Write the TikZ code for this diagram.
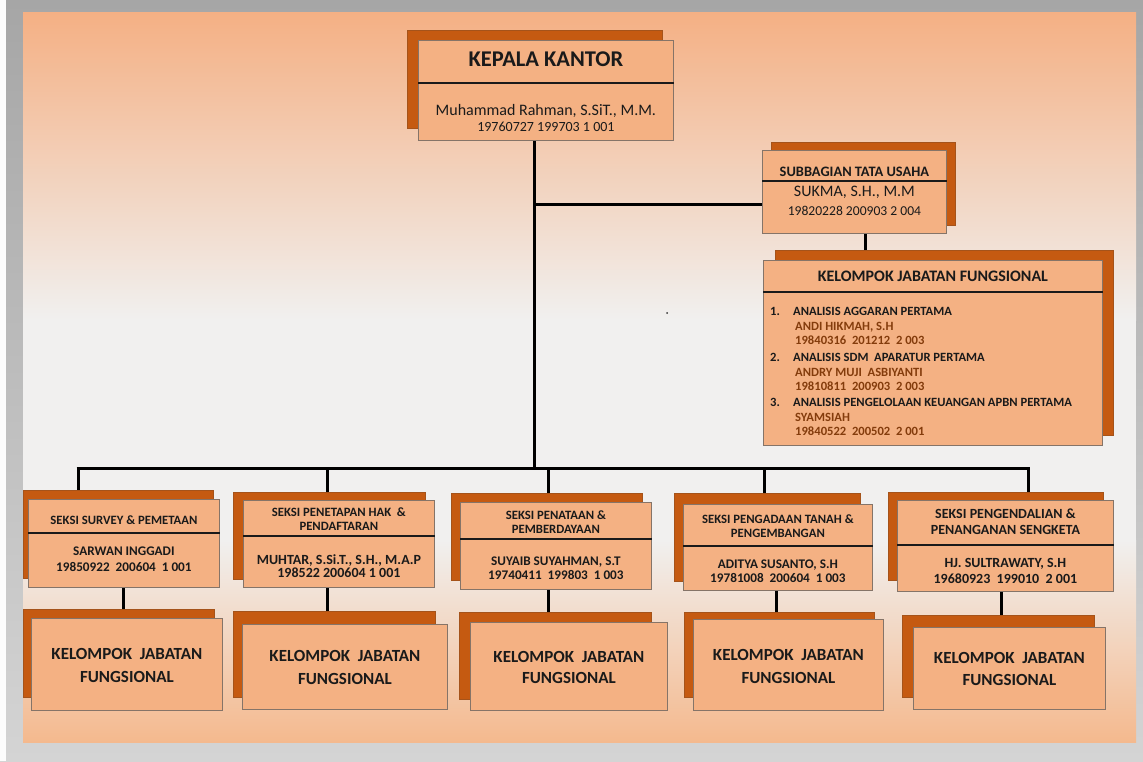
\documentclass[tikz,border=0pt]{standalone}
\usepackage{fontspec}
\setmainfont{Carlito}
\usetikzlibrary{calc}
\definecolor{boxfill}{HTML}{F4B183}
\definecolor{boxdark}{HTML}{C55A11}
\definecolor{boxdarkline}{HTML}{A5531A}
\definecolor{boxline}{HTML}{857468}
\definecolor{ink}{HTML}{1A1A1A}
\definecolor{brownink}{HTML}{843C0C}
\definecolor{slideor}{HTML}{F4B084}
\definecolor{slideorb}{HTML}{F4B98E}
\definecolor{slidewh}{HTML}{F1F0EF}
\definecolor{framegt}{HTML}{A6A6A6}
\definecolor{framegb}{HTML}{D4D4D4}
\newcommand\fs[1]{\fontsize{#1}{#1}\selectfont}
\newcommand\orgbox[9]{%
  \node[bk, minimum width=#8pt, minimum height=#9pt] (#1b) at (#6,#7) {};
  \node[fr, minimum width=#4pt, minimum height=#5pt] (#1) at (#2,#3) {};}
\tikzset{
  fr/.style={draw=boxline, fill=boxfill, line width=0.8pt, inner sep=0pt, anchor=north west},
  bk/.style={draw=boxdarkline, fill=boxdark, line width=0.6pt, inner sep=0pt, anchor=north west},
  conn/.style={draw=black, line width=3pt},
  sepline/.style={draw=ink, line width=2.4pt},
  lbl/.style={inner sep=0pt, anchor=base, text=ink},
  ttl/.style={lbl, font=\bfseries\fs{12.7}},
  nm/.style={lbl, font=\bfseries\fs{13.2}},
  kjfb/.style={lbl, font=\bfseries\fs{17}},
  li/.style={inner sep=0pt, anchor=base west, text=ink, font=\bfseries\fs{12.6}},
  lis/.style={inner sep=0pt, anchor=base west, text=brownink, font=\bfseries\fs{12.6}},
}
\begin{document}
\begin{tikzpicture}[x=1pt,y=-1pt]
\useasboundingbox (0,0) rectangle (1143,761);
% background frame and slide
\fill[top color=framegt, bottom color=framegb] (0,0) rectangle (1143,761);
\fill[white!92!framegb] (0,0) rectangle (6,761);
\fill[top color=slideor, bottom color=slidewh] (23,12) rectangle (1136,320);
\fill[slidewh] (23,319) rectangle (1136,541);
\fill[top color=slidewh, bottom color=slideorb] (23,540) rectangle (1136,742);
\fill[black!80] (667,313) circle (1);

% junction coordinates
\coordinate (j1) at (534,204);
\coordinate (j2) at (534,468);
\coordinate (busL) at (78,468);
\coordinate (busR) at (1028,468);
\coordinate (d2) at (327,468);
\coordinate (d3) at (548,468);
\coordinate (d4) at (764,468);
\coordinate (u1) at (123,600);
\coordinate (u2) at (327,600);
\coordinate (u3) at (548,600);
\coordinate (u4) at (776,600);
\coordinate (u5) at (1001,600);

% boxes: name, front x,y,w,h, back x,y,w,h
\orgbox{k}{418}{40}{255}{100}{407}{30}{255}{98}
\orgbox{sub}{762}{150}{184}{83}{771}{142}{184}{83}
\orgbox{kjf}{763}{260}{339}{185}{775}{250}{338}{185}
\orgbox{sa}{28}{499}{191}{88}{23}{490}{190}{88}
\orgbox{sb}{243}{500}{191}{87}{233}{492}{192}{87}
\orgbox{sc}{460}{502}{191}{87}{451}{493}{191}{87}
\orgbox{sd}{683}{504}{189}{86}{674}{493}{186}{88}
\orgbox{se}{897}{500}{216}{91}{888}{492}{215}{88}
\orgbox{ba}{31}{618}{191}{92}{23}{609}{191}{88}
\orgbox{bb}{242}{624}{205}{85}{233}{611}{202}{86}
\orgbox{bc}{470}{622}{197}{88}{459}{612}{192}{87}
\orgbox{bd}{693}{619}{190}{91}{684}{612}{190}{85}
\orgbox{be}{913}{627}{192}{82}{902}{615}{192}{82}

% connectors
\draw[conn] (k.south -| j1) -- (j2);
\draw[conn] (j1) -- (sub.west |- j1);
\draw[conn] ([xshift=11pt]sub.south) -- ([xshift=11pt]sub.south |- kjfb.north);
\draw[conn] ([xshift=-1.5pt]busL) -- ([xshift=1.5pt]busR);
\draw[conn] (busL) -- (busL |- sab.north);
\draw[conn] (d2) -- (d2 |- sbb.north);
\draw[conn] (d3) -- (d3 |- scb.north);
\draw[conn] (d4) -- (d4 |- sdb.north);
\draw[conn] (busR) -- (busR |- seb.north);
\draw[conn] (u1 |- sa.south) -- (u1 |- bab.north);
\draw[conn] (u2 |- sb.south) -- (u2 |- bbb.north);
\draw[conn] (u3 |- sc.south) -- (u3 |- bcb.north);
\draw[conn] (u4 |- sd.south) -- (u4 |- bdb.north);
\draw[conn] (u5 |- se.south) -- (u5 |- beb.north);

% redraw boxes over connector ends
\orgbox{k}{418}{40}{255}{100}{407}{30}{255}{98}
\orgbox{sub}{762}{150}{184}{83}{771}{142}{184}{83}
\orgbox{kjf}{763}{260}{339}{185}{775}{250}{338}{185}
\orgbox{sa}{28}{499}{191}{88}{23}{490}{190}{88}
\orgbox{sb}{243}{500}{191}{87}{233}{492}{192}{87}
\orgbox{sc}{460}{502}{191}{87}{451}{493}{191}{87}
\orgbox{sd}{683}{504}{189}{86}{674}{493}{186}{88}
\orgbox{se}{897}{500}{216}{91}{888}{492}{215}{88}
\orgbox{ba}{31}{618}{191}{92}{23}{609}{191}{88}
\orgbox{bb}{242}{624}{205}{85}{233}{611}{202}{86}
\orgbox{bc}{470}{622}{197}{88}{459}{612}{192}{87}
\orgbox{bd}{693}{619}{190}{91}{684}{612}{190}{85}
\orgbox{be}{913}{627}{192}{82}{902}{615}{192}{82}

% separators
\draw[sepline] (k.west |- 0,83) -- (k.east |- 0,83);
\draw[sepline] (sub.west |- 0,181) -- (sub.east |- 0,181);
\draw[sepline] (kjf.west |- 0,292) -- (kjf.east |- 0,292);
\draw[sepline] (sa.west |- 0,533) -- (sa.east |- 0,533);
\draw[sepline] (sb.west |- 0,536) -- (sb.east |- 0,536);
\draw[sepline] (sc.west |- 0,539) -- (sc.east |- 0,539);
\draw[sepline] (sd.west |- 0,546) -- (sd.east |- 0,546);
\draw[sepline] (se.west |- 0,545) -- (se.east |- 0,545);

% KEPALA KANTOR
\node[lbl, font=\bfseries\fs{22.5}] (kt) at (k.center |- 0,66.5) {KEPALA KANTOR};
\node[lbl, font=\fs{16}] (kn) at (k.center |- 0,115) {Muhammad Rahman, S.SiT., M.M.};
\node[lbl, font=\fs{14}] (kno) at (k.center |- 0,131.5) {19760727 199703 1 001};

% SUBBAGIAN
\node[lbl, font=\bfseries\fs{14.4}] (st) at (sub.center |- 0,176.5) {SUBBAGIAN TATA USAHA};
\node[lbl, font=\fs{16}] (sn) at (sub.center |- 0,196) {SUKMA, S.H., M.M};
\node[lbl, font=\fs{13.6}] (sno) at (sub.center |- 0,215) {19820228 200903 2 004};

% KELOMPOK JABATAN FUNGSIONAL (right)
\node[lbl, font=\bfseries\fs{16}] (kjt) at (kjf.center |- 0,281.5) {KELOMPOK JABATAN FUNGSIONAL};
\node[li] (l1n) at (770,315.7) {1.};
\node[li] (l1) at (793,315.7) {ANALISIS AGGARAN PERTAMA};
\node[lis] (l1a) at (795,330) {ANDI HIKMAH, S.H};
\node[lis] (l1b) at (795,344) {19840316~ 201212~ 2 003};
\node[li] (l2n) at (770,361) {2.};
\node[li] (l2) at (793,361) {ANALISIS SDM~ APARATUR PERTAMA};
\node[lis] (l2a) at (795,376) {ANDRY MUJI~ ASBIYANTI};
\node[lis] (l2b) at (795,390) {19810811~ 200903~ 2 003};
\node[li] (l3n) at (770,406) {3.};
\node[li] (l3) at (793,406) {ANALISIS PENGELOLAAN KEUANGAN APBN PERTAMA};
\node[lis] (l3a) at (795,421) {SYAMSIAH};
\node[lis] (l3b) at (795,435.5) {19840522~ 200502~ 2 001};

% SEKSI boxes
\node[ttl] (sat) at (sa.center |- 0,524) {SEKSI SURVEY \& PEMETAAN};
\node[nm] (san) at (sa.center |- 0,555) {SARWAN INGGADI};
\node[nm] (sano) at (sa.center |- 0,571) {19850922~ 200604~ 1 001};

\node[ttl] (sbt1) at (sb.center |- 0,516.5) {SEKSI PENETAPAN HAK~ \&};
\node[ttl] (sbt2) at (sb.center |- 0,530) {PENDAFTARAN};
\node[nm, font=\bfseries\fs{14}] (sbn) at (sb.center |- 0,564) {MUHTAR, S.Si.T., S.H., M.A.P};
\node[nm, font=\bfseries\fs{14}] (sbno) at (sb.center |- 0,577) {198522 200604 1 001};

\node[ttl] (sct1) at (sc.center |- 0,519) {SEKSI PENATAAN \&};
\node[ttl] (sct2) at (sc.center |- 0,533) {PEMBERDAYAAN};
\node[nm] (scn) at (sc.center |- 0,565) {SUYAIB SUYAHMAN, S.T};
\node[nm] (scno) at (sc.center |- 0,579) {19740411~ 199803~ 1 003};

\node[ttl] (sdt1) at (sd.center |- 0,523) {SEKSI PENGADAAN TANAH \&};
\node[ttl] (sdt2) at (sd.center |- 0,537) {PENGEMBANGAN};
\node[nm] (sdn) at (sd.center |- 0,568) {ADITYA SUSANTO, S.H};
\node[nm] (sdno) at (sd.center |- 0,582) {19781008~ 200604~ 1 003};

\node[ttl, font=\bfseries\fs{14}] (set1) at (se.center |- 0,518) {SEKSI PENGENDALIAN \&};
\node[ttl, font=\bfseries\fs{14}] (set2) at (se.center |- 0,534) {PENANGANAN SENGKETA};
\node[nm, font=\bfseries\fs{14}] (sen) at (se.center |- 0,567) {HJ. SULTRAWATY, S.H};
\node[nm, font=\bfseries\fs{14}] (seno) at (se.center |- 0,583) {19680923~ 199010~ 2 001};

% bottom KELOMPOK boxes
\node[kjfb] (bat1) at (ba.center |- 0,659) {KELOMPOK~ JABATAN};
\node[kjfb] (bat2) at (ba.center |- 0,682) {FUNGSIONAL};
\node[kjfb] (bbt1) at (bb.center |- 0,661) {KELOMPOK~ JABATAN};
\node[kjfb] (bbt2) at (bb.center |- 0,684) {FUNGSIONAL};
\node[kjfb] (bct1) at (bc.center |- 0,662) {KELOMPOK~ JABATAN};
\node[kjfb] (bct2) at (bc.center |- 0,683) {FUNGSIONAL};
\node[kjfb] (bdt1) at (bd.center |- 0,660) {KELOMPOK~ JABATAN};
\node[kjfb] (bdt2) at (bd.center |- 0,683) {FUNGSIONAL};
\node[kjfb] (bet1) at (be.center |- 0,663) {KELOMPOK~ JABATAN};
\node[kjfb] (bet2) at (be.center |- 0,685) {FUNGSIONAL};
\end{tikzpicture}
\end{document}
